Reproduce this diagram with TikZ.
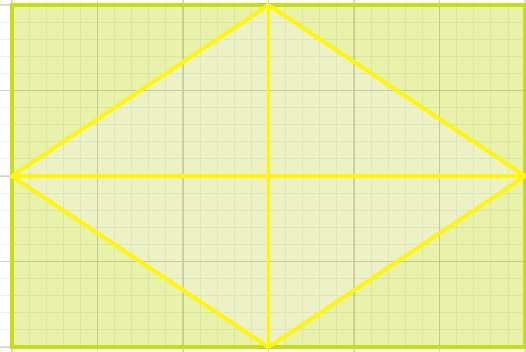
\documentclass[tikz,border=0pt]{standalone}
\usepackage{tikz}
\usetikzlibrary{positioning, calc}
\definecolor{limeedge}{RGB}{200, 222, 20}
\definecolor{limefill}{RGB}{233, 242, 170}
\definecolor{kitefill}{RGB}{237, 242, 198}
\definecolor{kiteline}{RGB}{255, 248, 0}
\definecolor{gridolive}{RGB}{110, 110, 60}

\begin{document}
\begin{tikzpicture}[
  x=85.5pt, y=85.5pt,
  gridminor/.style={draw=gridolive, opacity=0.09, line width=1pt},
  gridmajor/.style={draw=gridolive, opacity=0.22, line width=1.6pt},
  framebox/.style={draw=limeedge, line width=3.8pt},
  kiteedge/.style={draw=kiteline, line width=3.8pt, line join=round, line cap=round}
]
  \useasboundingbox (-0.14,-0.047) rectangle (6.01,4.058);
  \clip (-0.14,-0.047) rectangle (6.01,4.058);
  % corners and kite points
  \coordinate (sw) at (0,0);
  \coordinate (ne) at (6,4);
  \coordinate (top) at (3,4);
  \coordinate (bot) at (3,0);
  \coordinate (lft) at (0,2);
  \coordinate (rgt) at (6,2);

  \fill[limefill] (sw) rectangle (ne);
  \fill[kitefill] (top) -- (rgt) -- (bot) -- (lft) -- cycle;
  \draw[gridminor] (-1,-1) grid[step=0.2] (7,5);
  \draw[gridmajor] (-1,-1) grid[step=1] (7,5);
  \draw[framebox] (sw) rectangle (ne);

  \draw[kiteedge] (top) -- (rgt) -- (bot) -- (lft) -- cycle;
  \draw[kiteedge] (lft) -- (rgt);
  \draw[kiteedge] (top) -- (bot);
\end{tikzpicture}
\end{document}
